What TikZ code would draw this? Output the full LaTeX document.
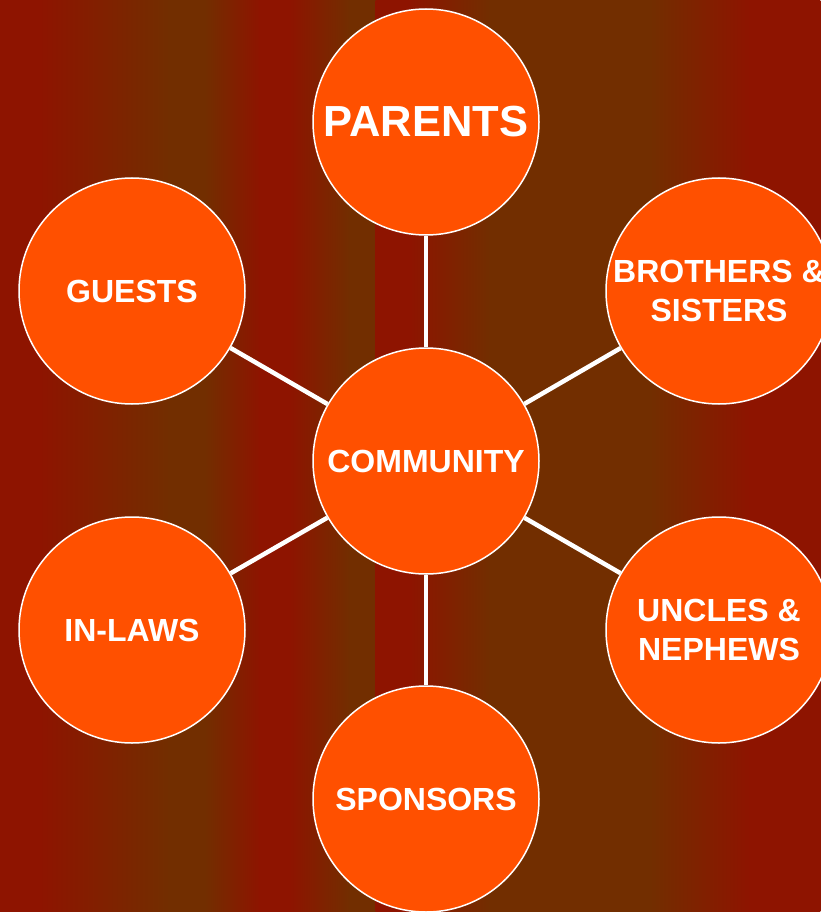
\documentclass[tikz,border=0pt]{standalone}
\usepackage{fontspec}
\setmainfont{Liberation Sans}
\usepackage{tikz}
\usetikzlibrary{positioning}
\usepackage{xcolor}

\definecolor{bgred}{RGB}{142,20,0}
\definecolor{bgbrown}{RGB}{114,46,0}
\definecolor{memberfill}{RGB}{255,80,0}

\tikzset{
  member/.style={circle, fill=memberfill, draw=white, line width=1.5pt,
    minimum size=226pt, inner sep=0pt, align=center, text=white,
    font=\fontsize{32}{39}\selectfont\bfseries},
  member big/.style={font=\fontsize{43.5}{48}\selectfont\bfseries},
  link/.style={draw=white, line width=4.5pt}
}

\begin{document}
\begin{tikzpicture}[x=1pt, y=-1pt]
      \useasboundingbox (0,0) rectangle (820,912);

      % Background stripes
      \foreach \a/\b/\l/\r in {0/40/bgred/bgred, 40/170/bgred/bgbrown,
          170/205/bgbrown/bgbrown, 205/260/bgbrown/bgred, 260/290/bgred/bgred,
          290/350/bgred/bgbrown, 350/376/bgbrown/bgbrown, 376/410/bgred/bgred,
          410/490/bgred/bgbrown, 490/650/bgbrown/bgbrown, 650/750/bgbrown/bgred,
          750/820/bgred/bgred}
        \shade [left color=\l, right color=\r] (\a-0.3,0) rectangle (\b+0.3,912);

      % The family around the community
      \node [member] (community) at (426,461) {COMMUNITY};
      \node [member, member big] (parents) at (426,122) {PARENTS};
      \node [member] (brothers) at (719,291) {BROTHERS \&\\SISTERS};
      \node [member] (uncles) at (719,630) {UNCLES \&\\NEPHEWS};
      \node [member] (sponsors) at (426,799) {SPONSORS};
      \node [member] (inlaws) at (132,630) {IN-LAWS};
      \node [member] (guests) at (132,291) {GUESTS};

      % Draw the connecting lines
      \foreach \n in {parents, brothers, uncles, sponsors, inlaws, guests}
        \draw [link] (community) -- (\n);
    \end{tikzpicture}
\end{document}
